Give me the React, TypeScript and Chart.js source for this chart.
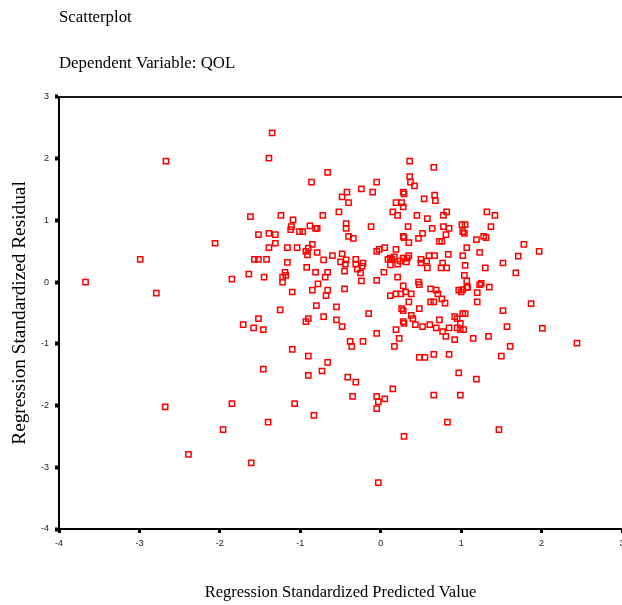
import React, { useEffect, useRef } from "react";
import { Chart, registerables } from "chart.js";

Chart.register(...registerables);

const chartTitle = "Scatterplot";
const chartSubtitle = "Dependent Variable: QOL";
const xAxisTitle = "Regression Standardized Predicted Value";
const yAxisTitle = "Regression Standardized Residual";

const xTicks = [-4, -3, -2, -1, 0, 1, 2, 3];
const yTicks = [-4, -3, -2, -1, 0, 1, 2, 3];

// Regression standardized predicted values
const predicted = [
  -3.67, -2.99, -2.79, -2.67, -2.68, -2.39, -1.96, -1.85, -2.06, -1.85,
  -1.35, -1.39, -0.66, -0.86, -1.62, -1.24, -1.09, -0.72, -0.52, -1.11,
  -1.12, -1.01, -0.97, -0.88, -0.81, -0.79, -1.52, -1.39, -1.31, -1.31,
  -1.39, -1.16, -1.04, -0.85, -0.90, -0.93, -0.91, -0.79, -0.60, -0.71,
  -1.57, -1.52, -1.42, -1.16, -0.92, -1.64, -1.45, -1.19, -1.18, -1.22,
  -1.22, -0.81, -0.66, -0.69, -0.78, -0.66, -0.68, -0.85, -1.10, -0.80,
  -0.55, -1.25, -1.52, -1.71, -1.58, -1.46, -0.90, -0.93, -0.71, -0.55,
  -1.10, -0.90, -0.66, -0.73, -1.46, -0.90, -1.07, -0.83, -1.40, -1.61,
  0.36, 0.66, -0.05, 0.36, 0.37, 0.42, -0.24, -0.10, -0.42, -0.48,
  -0.40, 0.28, 0.29, 0.19, 0.26, 0.28, 0.15, 0.21, 0.67, 0.68,
  0.54, 0.45, 0.58, 0.82, 0.78, 1.32, -0.43, -0.43, -0.40, -0.34,
  -0.12, 0.34, 0.64, 0.78, 0.85, 0.81, 0.52, 0.47, 0.28, 0.29,
  0.35, 1.01, 1.05, 1.02, 1.04, 0.73, 0.76, 1.07, 1.19, 1.28,
  1.31, 1.23, 0.84, 1.02, 0.19, -0.05, -0.02, 0.05, 0.35, -0.48,
  0.12, 0.17, 0.28, 0.33, 0.50, 0.60, 0.67, -0.50, -0.43, -0.44,
  -0.31, -0.31, -0.22, -0.23, -0.45, -0.29, -0.25, -0.24, 0.04, -0.05,
  0.09, 0.14, 0.12, 0.21, 0.24, 0.32, 0.21, 0.50, 0.57, 0.58,
  0.75, 0.82, 0.77, 1.05, 1.30, 1.04, 1.07, 1.07, 1.23, 1.25,
  1.20, 1.20, 0.47, 0.48, 0.28, 0.31, 0.38, 0.19, 0.12, 0.25,
  0.35, 0.62, 0.69, 0.71, 0.76, 0.80, 0.62, 0.66, 0.97, 1.00,
  1.02, 1.08, -0.45, -0.15, -0.48, 0.26, 0.28, 0.48, 0.38, 0.40,
  0.28, 0.29, 0.43, 0.52, 0.61, 0.69, 0.73, 0.19, 0.23, 0.17,
  -0.05, -0.38, -0.36, -0.22, 0.77, 0.81, 0.85, 0.92, 0.92, 0.95,
  0.99, 0.95, 0.99, 1.03, 1.02, 1.05, 1.15, 1.34, 0.48, 0.55,
  0.66, 0.85, -0.41, -0.31, 0.15, 0.97, 1.19, -0.35, -0.05, 0.05,
  0.66, 0.99, -0.03, -0.05, 0.83, 0.29, -0.03, 1.42, 1.37, 1.78,
  1.97, 1.71, 1.52, 1.68, 1.35, 1.87, 1.52, 1.57, 2.01, 1.61,
  1.50, 2.44, 1.47,
];

// Regression standardized residuals
const residual = [
  -0.00, 0.37, -0.18, 1.96, -2.02, -2.79, -2.39, -1.97, 0.63, 0.05,
  2.42, 2.01, 1.78, 1.62, 1.06, 1.08, 1.01, 1.08, 1.14, 0.90,
  0.85, 0.82, 0.82, 0.91, 0.87, 0.87, 0.77, 0.79, 0.77, 0.63,
  0.56, 0.56, 0.56, 0.61, 0.55, 0.50, 0.44, 0.48, 0.43, 0.36,
  0.37, 0.37, 0.37, 0.32, 0.24, 0.13, 0.08, 0.16, 0.11, 0.08,
  -0.00, 0.16, 0.16, 0.08, -0.03, -0.13, -0.22, -0.13, -0.16, -0.38,
  -0.40, -0.45, -0.59, -0.69, -0.74, -0.77, -0.59, -0.64, -0.56, -0.61,
  -1.09, -1.20, -1.30, -1.44, -1.41, -1.51, -1.97, -2.16, -2.27, -2.93,
  1.96, 1.86, 1.62, 1.71, 1.62, 1.56, 1.51, 1.46, 1.46, 1.38,
  1.29, 1.46, 1.43, 1.29, 1.29, 1.22, 1.14, 1.08, 1.41, 1.32,
  1.35, 1.08, 1.03, 1.14, 1.08, 1.14, 0.95, 0.87, 0.74, 0.71,
  0.90, 0.90, 0.87, 0.90, 0.87, 0.77, 0.79, 0.71, 0.74, 0.72,
  0.64, 0.93, 0.93, 0.82, 0.79, 0.66, 0.66, 0.56, 0.69, 0.74,
  0.72, 0.48, 0.45, 0.43, 0.53, 0.50, 0.53, 0.56, 0.43, 0.46,
  0.39, 0.41, 0.39, 0.39, 0.37, 0.43, 0.43, 0.33, 0.36, 0.29,
  0.37, 0.29, 0.31, 0.26, 0.18, 0.21, 0.15, 0.02, 0.16, 0.03,
  0.37, 0.37, 0.28, 0.29, 0.34, 0.33, 0.08, 0.31, 0.34, 0.23,
  0.23, 0.23, 0.31, 0.27, 0.23, 0.11, 0.02, -0.09, -0.04, -0.02,
  -0.17, -0.32, 0.00, -0.04, -0.06, -0.16, -0.19, -0.19, -0.22, -0.19,
  -0.32, -0.11, -0.13, -0.19, -0.27, -0.34, -0.32, -0.32, -0.13, -0.16,
  -0.12, -0.08, -0.11, -0.51, -0.72, -0.43, -0.46, -0.43, -0.54, -0.59,
  -0.64, -0.67, -0.69, -0.72, -0.69, -0.74, -0.61, -0.77, -0.91, -1.04,
  -0.83, -0.96, -1.04, -0.96, -0.80, -0.88, -0.74, -0.93, -0.56, -0.59,
  -0.67, -0.74, -0.77, -0.77, -0.51, -0.51, -0.91, -0.88, -1.22, -1.22,
  -1.17, -1.17, -1.54, -1.62, -1.73, -1.47, -1.57, -1.85, -1.85, -1.89,
  -1.83, -1.83, -1.94, -2.05, -2.27, -2.50, -3.25, 1.08, 0.90, 0.61,
  0.50, 0.42, 0.31, 0.15, -0.08, -0.35, -0.46, -0.72, -0.75, -1.04,
  -1.20, -0.99, -2.39,
];

const serif = "'Liberation Serif', 'Times New Roman', serif";
const sans = "'Liberation Sans', Arial, sans-serif";

const topLinePlugin = {
  id: "topLine",
  afterDraw(chart: any) {
    const { ctx, chartArea } = chart;
    ctx.save();
    ctx.strokeStyle = "#1a1a1a";
    ctx.lineWidth = 2;
    ctx.beginPath();
    ctx.moveTo(chartArea.left, chartArea.top);
    ctx.lineTo(chart.width, chartArea.top);
    ctx.stroke();
    ctx.restore();
  },
};

export default function App() {
  const canvasRef = useRef<HTMLCanvasElement | null>(null);

  useEffect(() => {
    const canvas = canvasRef.current;
    if (!canvas) return;
    const points = predicted.map((x, i) => ({ x, y: residual[i] }));
    const chart = new Chart(canvas, {
      type: "scatter",
      data: {
        datasets: [
          {
            data: points,
            pointStyle: "rect",
            radius: 3.7,
            borderColor: "#ff0000",
            backgroundColor: "rgba(0,0,0,0)",
            borderWidth: 1.5,
          } as any,
        ],
      },
      options: {
        animation: false,
        responsive: false,
        devicePixelRatio: 1,
        layout: { padding: { left: 0, right: 18, top: 0, bottom: 0 } },
        plugins: {
          legend: { display: false },
          tooltip: { enabled: false },
          title: {
            display: true,
            text: chartTitle,
            align: "start",
            fullSize: false,
            color: "#000",
            font: { family: serif, size: 16.8, weight: "normal", lineHeight: 1.2 },
            padding: { top: 7.9, bottom: 12.9 },
          },
          subtitle: {
            display: true,
            text: chartSubtitle,
            align: "start",
            fullSize: false,
            color: "#000",
            font: { family: serif, size: 16.8, weight: "normal", lineHeight: 1.2 },
            padding: { top: 12.96, bottom: 22.9 },
          },
        },
        scales: {
          x: {
            type: "linear",
            min: -4,
            max: 3,
            afterFit: (s: any) => {
              s.height = 76;
            },
            afterBuildTicks: (s: any) => {
              s.ticks = xTicks.map((v) => ({ value: v }));
            },
            ticks: {
              font: { family: sans, size: 9 },
              color: "#222",
              padding: 5,
              maxRotation: 0,
              autoSkip: false,
            },
            grid: {
              display: true,
              drawOnChartArea: false,
              drawTicks: true,
              tickLength: 4,
              tickWidth: 3,
              tickColor: "#000",
            },
            border: { display: true, color: "#000", width: 2 },
            title: {
              display: true,
              text: xAxisTitle,
              color: "#000",
              font: { family: serif, size: 16.5, weight: "normal", lineHeight: 1.2 },
              padding: { top: 0, bottom: 2.1 },
            },
          },
          y: {
            type: "linear",
            min: -4,
            max: 3,
            afterFit: (s: any) => {
              s.width = 59;
            },
            afterBuildTicks: (s: any) => {
              s.ticks = yTicks.map((v) => ({ value: v }));
            },
            ticks: {
              font: { family: sans, size: 9 },
              color: "#222",
              padding: 6,
              autoSkip: false,
            },
            grid: {
              display: true,
              drawOnChartArea: false,
              drawTicks: true,
              tickLength: 4,
              tickWidth: 4,
              tickColor: "#000",
            },
            border: { display: true, color: "#000", width: 2 },
            title: {
              display: true,
              text: yAxisTitle,
              color: "#000",
              font: { family: serif, size: 19.3, weight: "normal", lineHeight: 1.2 },
              padding: { top: 8.4, bottom: 0 },
            },
          },
        },
      } as any,
      plugins: [topLinePlugin],
    });
    return () => chart.destroy();
  }, []);

  return (
    <div
      style={{
        position: "absolute",
        left: 0,
        top: 0,
        width: 622,
        height: 605,
        overflow: "hidden",
        background: "#fff",
      }}
    >
      <canvas ref={canvasRef} width={640} height={605} style={{ display: "block" }} />
    </div>
  );
}
